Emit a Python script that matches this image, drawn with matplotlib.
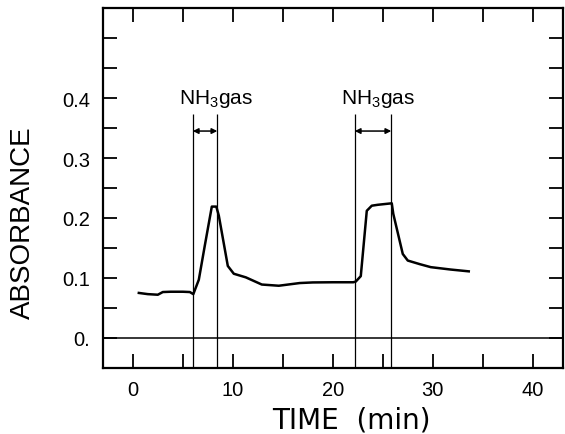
import matplotlib
matplotlib.use("Agg")
import matplotlib.pyplot as plt

# absorbance trace
time = [0.6, 1.5, 2.5, 3.0, 3.8, 5.0, 5.7, 6.05, 6.6, 7.2, 7.9, 8.35, 8.6,
        9.5, 10.1, 11.3, 12.9, 14.6, 16.7, 18.0, 20.0, 22.05, 22.3, 22.8,
        23.4, 23.9, 24.5, 25.9, 26.05, 27.0, 27.5, 28.7, 29.8, 31.8, 33.6]
absorbance = [0.075, 0.073, 0.072, 0.0765, 0.077, 0.077, 0.0765, 0.073, 0.097,
              0.154, 0.219, 0.219, 0.204, 0.12, 0.107, 0.101, 0.089, 0.087,
              0.0915, 0.0925, 0.0928, 0.0928, 0.094, 0.103, 0.212, 0.2205,
              0.222, 0.2245, 0.207, 0.14, 0.129, 0.123, 0.118, 0.114, 0.111]

gas_on = [6.0, 22.2]
gas_off = [8.45, 25.85]
gas_label = r"NH$_3$gas"

xticks_major = [0, 10, 20, 30, 40]
yticks_major = [0.0, 0.1, 0.2, 0.3, 0.4]
ytick_labels = ["0.", "0.1", "0.2", "0.3", "0.4"]

plt.rcParams["font.family"] = ["Liberation Sans", "DejaVu Sans"]
plt.rcParams["mathtext.fontset"] = "custom"
plt.rcParams["mathtext.rm"] = "Liberation Sans"

fig = plt.figure(figsize=(5.65, 4.35), dpi=100)
ax = fig.add_axes([0.182, 0.152, 0.814, 0.827])

ax.plot(time, absorbance, color="black", lw=1.8)
ax.axhline(0, color="black", lw=1.1)

for on, off in zip(gas_on, gas_off):
    ax.vlines([on, off], -0.05, 0.373, color="black", lw=0.9)
    ax.annotate("", xy=(off, 0.345), xytext=(on, 0.345),
                arrowprops=dict(arrowstyle="<|-|>", color="black", lw=1.1,
                                mutation_scale=8, shrinkA=0, shrinkB=0))
    ax.text(on - 1.4, 0.391, gas_label, fontsize=15, ha="left", va="baseline")

ax.set_xlim(-3, 43)
ax.set_ylim(-0.05, 0.55)

# ticks every 5 min / 0.05, labels only on the major values
xt = list(range(0, 45, 5))
ax.set_xticks(xt)
ax.set_xticklabels([str(v) if v in xticks_major else "" for v in xt])
yt = [round(0.05 * i, 2) for i in range(0, 11)]
ax.set_yticks(yt)
ax.set_yticklabels([ytick_labels[yticks_major.index(v)] if v in yticks_major else "" for v in yt])

ax.tick_params(direction="in", length=10, width=1.3, labelsize=14.5,
               top=True, right=True, pad=9)
for s in ax.spines.values():
    s.set_linewidth(1.6)

ax.set_ylabel("ABSORBANCE", fontsize=20)
ax.yaxis.set_label_coords(-0.145, 0.407)
ax.set_xlabel("TIME  (min)", fontsize=20, family="DejaVu Sans")
ax.xaxis.set_label_coords(0.541, -0.105)

fig.savefig("out.png", dpi=100)
